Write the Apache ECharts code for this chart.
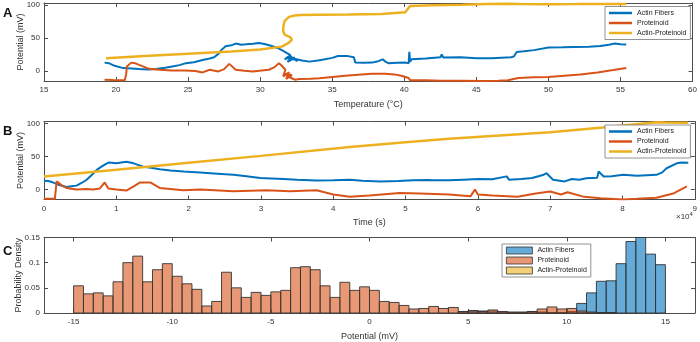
<!DOCTYPE html>
<html>
<head>
<meta charset="utf-8">
<script src="https://cdn.jsdelivr.net/npm/echarts@6/dist/echarts.min.js"></script>
<style>
  html, body { margin: 0; padding: 0; background: #fff; }
  #container { width: 700px; height: 342px; }
</style>
</head>
<body>
<div id="container"></div>
<script>
// Panel A: potential vs temperature  [temperature (°C), potential (mV)]
const actinA = [[19.2,12.8],[19.5,12],[19.9,8],[20.5,4.5],[21.1,4],[21.6,3],[22.2,2.5],[22.8,3],[23.4,5],[23.9,7],[24.4,9],[24.85,12],[25.4,13.5],[26,16.8],[26.5,19],[26.8,20.8],[27.1,26],[27.3,31.7],[27.6,37.6],[28,39],[28.3,41.6],[28.7,40],[29,40.5],[29.5,41.5],[29.9,42.6],[30.3,41],[30.8,38],[31.2,35],[31.5,31.7],[31.8,28],[32.1,24.3],[31.7,18],[32.2,22],[31.9,14],[32.4,20],[32.0,21],[32.6,15],[32.3,19],[32.9,16],[33.4,14.3],[34,16],[34.5,17.8],[35,20],[35.4,22.8],[36,23],[36.5,20.8],[36.6,12.8],[37.2,12.5],[37.75,12.8],[38.2,15],[38.5,17.8],[38.7,14],[38.9,11.9],[39.5,12.5],[40.1,12.8],[40.3,12],[40.35,29],[40.4,14],[40.5,17.8],[41.5,19],[42.5,20.8],[42.6,25],[42.7,20.5],[43.9,20.8],[45,19.5],[46.05,19.3],[47.4,20.8],[47.6,22],[47.8,29],[48.3,30],[49,31.7],[50,35.7],[51,36],[51.8,36.6],[52.8,37],[53.6,38.1],[54.2,40],[54.6,41.6],[55,40.5],[55.4,40.1]];
const proteinoidA = [[19.2,-13],[19.8,-13.5],[20.6,-14],[20.7,-5],[20.75,7],[21.05,12.8],[21.3,12],[21.6,9.4],[22.3,3.4],[23,2],[23.9,1],[24.8,1],[25.5,0],[26,-2],[26.5,2],[27.1,-0.5],[27.5,3],[27.85,10.9],[28.1,6],[28.3,2],[28.9,0.5],[29.5,-0.5],[30.1,1],[30.6,2],[31,6],[31.3,12],[31.5,8],[31.75,2],[31.6,-8],[32.0,-2],[31.8,-12],[32.2,-6],[31.7,-4],[32.3,-12],[32.0,-9],[32.4,-13],[32.7,-12],[33.5,-11.5],[34.1,-11],[35,-9],[35.9,-7],[36.8,-5.5],[37.75,-4],[38.7,-4],[39.3,-5],[39.8,-7],[40.3,-10.4],[40.4,-14],[41.5,-14],[42.5,-14.5],[43.8,-14.5],[45.4,-15],[46.5,-14.5],[47.2,-14],[47.9,-10.4],[49,-9.5],[50,-9],[51.1,-7],[52.2,-5],[53.4,-2],[54.5,1.5],[55.4,4.5]];
const actinProteinoidA = [[19.3,19.3],[22,22.7],[25,26.3],[28,29.8],[30,32.5],[31.5,37],[32.0,43],[32.2,47.6],[32.1,51],[31.7,55],[31.6,60],[31.6,66],[31.7,76],[32.0,82],[32.4,84],[32.8,84.8],[34,85.3],[36.15,85.5],[38.4,86.5],[40.07,89],[40.2,91.5],[40.4,98.6],[42,99.5],[44,100.5],[45.8,101.5],[47,102],[48,101.3],[50,101.2],[52,101.3],[54,101.5],[55.4,101.6]];

// Panel B: potential vs time  [time (s), potential (mV)]
const actinB = [[0,13.4],[600,13],[1200,11],[2000,7.4],[3100,4],[3800,5],[4500,6],[5200,10],[5900,14.9],[6600,22],[7300,29.8],[8000,35],[8700,39.7],[9000,41],[10000,39.7],[10700,41],[11400,42],[12400,39.7],[13700,34.7],[14800,33],[16000,30.8],[17500,29],[19300,27.3],[21600,25.8],[24000,24],[26200,22.3],[28000,20],[29900,17.4],[33100,15.9],[35000,15],[37700,13.8],[40000,14],[42300,14.9],[44000,13.5],[46500,12.4],[49000,13],[51000,14],[53200,14.5],[53400,17.4],[53600,14],[56000,14],[58000,15],[60000,16],[62000,15.5],[64000,20],[64300,15],[66000,16],[67500,17.4],[69000,22],[69500,24.8],[70400,14.9],[72000,12.4],[73000,16],[74000,15],[75000,17],[76500,18],[76700,27.3],[77400,19.8],[78500,20],[80100,22.3],[82000,21],[84700,22.3],[85500,26],[86100,32.3],[87500,39.7],[88200,41],[89100,40.6]];
const proteinoidB = [[0,-13.9],[1000,-14],[1500,-14],[1750,12.4],[2000,12.4],[2500,6],[3100,2.5],[4500,0],[5900,1],[6800,0],[7700,1.5],[8400,10.9],[8900,1.5],[10000,0],[11400,-1.5],[12400,5],[13300,10.9],[14700,10.9],[16000,2.5],[19300,-1],[21600,0],[26200,-2.5],[30800,-1],[34000,-2.5],[37700,-1],[40000,-7.4],[42300,-10.9],[45000,-9],[49200,-5],[52000,-6],[56000,-7.4],[59000,-9.9],[59600,0],[60000,-7.4],[62000,-9],[65500,-10.9],[68000,-6],[70000,-3],[71500,-7.4],[72400,-4],[74700,-11],[77000,-13],[80100,-15],[82000,-14],[84700,-12.4],[87000,-6],[88900,5]];
const actinProteinoidB = [[0,19.8],[10000,30],[20000,40.5],[30000,51],[42300,64.5],[50000,71.5],[56000,77],[63000,82],[70000,86.8],[77300,94],[80000,97],[84700,102],[86000,101.5],[89100,101]];

// Panel C: histograms  [bin left edge (mV), probability density]
const binWidth = 0.5;
const proteinoidHist = [[-15,0.054],[-14.5,0.038],[-14,0.040],[-13.5,0.034],[-13,0.062],[-12.5,0.100],[-12,0.113],[-11.5,0.062],[-11,0.086],[-10.5,0.098],[-10,0.073],[-9.5,0.058],[-9,0.047],[-8.5,0.014],[-8,0.023],[-7.5,0.081],[-7,0.050],[-6.5,0.031],[-6,0.041],[-5.5,0.035],[-5,0.042],[-4.5,0.045],[-4,0.090],[-3.5,0.092],[-3,0.086],[-2.5,0.054],[-2,0.031],[-1.5,0.061],[-1,0.045],[-0.5,0.052],[0,0.045],[0.5,0.023],[1,0.021],[1.5,0.015],[2,0.008],[2.5,0.009],[3,0.013],[3.5,0.009],[4,0.011],[4.5,0.003],[5,0.004],[5.5,0.003],[6,0.006],[6.5,0.003],[7,0.002],[7.5,0.002],[8,0.003],[8.5,0.008],[9,0.012],[9.5,0.008],[10,0.009],[10.5,0.004],[11,0.002],[11.5,0.001],[12,0.001]];
const actinHist = [[4.5,0.003],[5,0.005],[5.5,0.004],[6,0.004],[6.5,0.002],[7,0.001],[7.5,0.001],[8,0.003],[8.5,0.002],[9,0.001],[9.5,0.001],[10,0.003],[10.5,0.019],[11,0.040],[11.5,0.063],[12,0.064],[12.5,0.098],[13,0.142],[13.5,0.150],[14,0.117],[14.5,0.096]];
const actinProteinoidHist = [];

const names = ['Actin Fibers', 'Proteinoid', 'Actin-Proteinoid'];
const lineColors = ['#0072BD', '#D95319', '#EDB120'];
const faceColors = ['rgba(0,114,189,0.6)', 'rgba(217,83,25,0.6)', 'rgba(237,177,32,0.6)'];

var dom = document.getElementById('container');
var myChart = echarts.init(dom, null, { renderer: 'canvas' });

const font = 'Liberation Sans, Arial, sans-serif';
const axisColor = '#4d4d4d';
const textColor = '#333';

const grids = [
  { left: 44, top: 3, width: 651, height: 78 },
  { left: 44, top: 121.5, width: 651, height: 78 },
  { left: 44, top: 237.5, width: 651, height: 80 }
];

function xAxes(gi, min, max, ticks, name, fmt) {
  const base = {
    type: 'value', gridIndex: gi, min: min, max: max,
    splitLine: { show: false },
    axisLine: { show: true, onZero: false, lineStyle: { color: axisColor, width: 1 } },
    axisTick: { show: true, inside: true, length: 4, customValues: ticks, lineStyle: { color: axisColor } }
  };
  return [
    Object.assign({}, base, {
      position: 'bottom', name: name, nameLocation: 'middle', nameGap: 19, nameMoveOverlap: false,
      nameTextStyle: { fontFamily: font, fontSize: 9, color: textColor },
      axisLabel: { customValues: ticks, fontFamily: font, fontSize: 8, color: textColor, margin: 5,
        formatter: fmt || (v => String(v)) }
    }),
    Object.assign({}, base, { position: 'top', axisLabel: { show: false } })
  ];
}

function yAxes(gi, min, max, ticks, name, gap) {
  const base = {
    type: 'value', gridIndex: gi, min: min, max: max,
    splitLine: { show: false },
    axisLine: { show: true, onZero: false, lineStyle: { color: axisColor, width: 1 } },
    axisTick: { show: true, inside: true, length: 4, customValues: ticks, lineStyle: { color: axisColor } }
  };
  return [
    Object.assign({}, base, {
      position: 'left', name: name, nameLocation: 'middle', nameGap: gap, nameRotate: 90,
      nameMoveOverlap: false,
      nameTextStyle: { fontFamily: font, fontSize: 9, color: textColor },
      axisLabel: { customValues: ticks, fontFamily: font, fontSize: 8, color: textColor, margin: 4 }
    }),
    Object.assign({}, base, { position: 'right', axisLabel: { show: false } })
  ];
}

const xAxis = [].concat(
  xAxes(0, 15, 60, [15,20,25,30,35,40,45,50,55,60], 'Temperature (°C)'),
  xAxes(1, 0, 90000, [0,10000,20000,30000,40000,50000,60000,70000,80000,90000], 'Time (s)', v => String(v / 10000)),
  xAxes(2, -16.5, 16.5, [-15,-10,-5,0,5,10,15], 'Potential (mV)')
);
const yAxis = [].concat(
  yAxes(0, -15, 103, [0,50,100], 'Potential (mV)', 19),
  yAxes(1, -15, 103, [0,50,100], 'Potential (mV)', 19),
  yAxes(2, 0, 0.15, [0,0.05,0.1,0.15], 'Probability Density', 21)
);

function lineSeries(name, data, xi, yi, color, width) {
  return {
    name: name, type: 'line', data: data, xAxisIndex: xi, yAxisIndex: yi,
    symbol: 'none', showSymbol: false, animation: false,
    lineStyle: { color: color, width: width },
    itemStyle: { color: color }
  };
}

function histSeries(name, data, face) {
  return {
    name: name, type: 'custom', xAxisIndex: 4, yAxisIndex: 4, data: data,
    animation: false,
    itemStyle: { color: face, borderColor: '#333', borderWidth: 1 },
    encode: { x: 0, y: 1 },
    renderItem: function (params, api) {
      const x0 = api.value(0);
      const p0 = api.coord([x0, 0]);
      const p1 = api.coord([x0 + binWidth, api.value(1)]);
      return {
        type: 'rect',
        shape: { x: p0[0], y: p1[1], width: p1[0] - p0[0], height: p0[1] - p1[1] },
        style: { fill: face, stroke: '#333', lineWidth: 0.9 }
      };
    }
  };
}

// line-style legend: thin rects stand in for line samples
const lineLegend = (left, top) => ({
  orient: 'vertical', left: left, top: top,
  data: names.map((n, i) => ({ name: n, icon: 'rect', itemStyle: { color: lineColors[i], borderWidth: 0 } })),
  itemWidth: 23, itemHeight: 2.5, itemGap: 1,
  padding: [2, 4, 2, 4],
  borderColor: '#777', borderWidth: 0.8, backgroundColor: '#fff',
  textStyle: { fontFamily: font, fontSize: 7, color: '#222', lineHeight: 9 }
});

var option = {
  backgroundColor: '#fff',
  animation: false,
  grid: grids,
  xAxis: xAxis,
  yAxis: yAxis,
  legend: [
    lineLegend(605, 6.5),
    lineLegend(605, 125),
    {
      orient: 'vertical', left: 502, top: 244,
      data: names.map((n, i) => ({ name: n, icon: 'rect',
        itemStyle: { color: faceColors[i], borderColor: '#333', borderWidth: 0.8 } })),
      itemWidth: 26, itemHeight: 7, itemGap: 1,
      padding: [2, 4, 2, 4],
      borderColor: '#777', borderWidth: 0.8, backgroundColor: '#fff',
      textStyle: { fontFamily: font, fontSize: 7, color: '#222', lineHeight: 9 }
    }
  ],
  graphic: [
    { type: 'text', left: 3, top: 7, style: { text: 'A', font: 'bold 13px ' + font, fill: '#111' } },
    { type: 'text', left: 3, top: 125, style: { text: 'B', font: 'bold 13px ' + font, fill: '#111' } },
    { type: 'text', left: 3, top: 245, style: { text: 'C', font: 'bold 13px ' + font, fill: '#111' } },
    { type: 'text', left: 676, top: 211, style: {
        text: '×10{s|4}', font: '8px ' + font, fill: textColor,
        rich: { s: { fontSize: 6, verticalAlign: 'top', padding: [0, 0, 5, 0] } } } }
  ],
  series: [
    lineSeries(names[0], actinA, 0, 0, lineColors[0], 2),
    lineSeries(names[1], proteinoidA, 0, 0, lineColors[1], 2),
    lineSeries(names[2], actinProteinoidA, 0, 0, lineColors[2], 2.5),
    lineSeries(names[0], actinB, 2, 2, lineColors[0], 2),
    lineSeries(names[1], proteinoidB, 2, 2, lineColors[1], 2),
    lineSeries(names[2], actinProteinoidB, 2, 2, lineColors[2], 2.5),
    histSeries(names[0], actinHist, faceColors[0]),
    histSeries(names[1], proteinoidHist, faceColors[1]),
    histSeries(names[2], actinProteinoidHist, faceColors[2])
  ]
};

if (option && typeof option === 'object') {
  myChart.setOption(option);
}

window.addEventListener('resize', myChart.resize);
</script>
</body>
</html>
